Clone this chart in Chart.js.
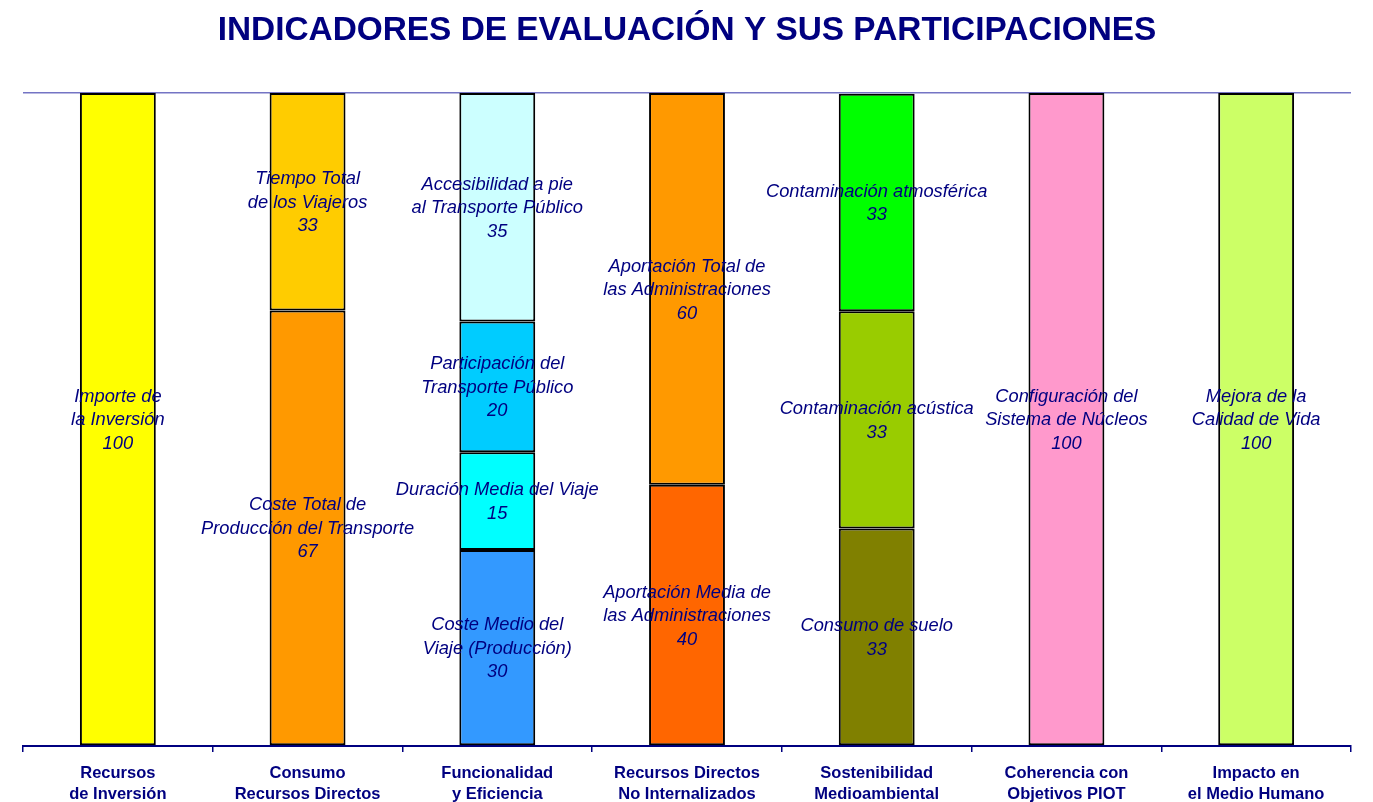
<!DOCTYPE html>
<html>
<head>
<meta charset="utf-8">
<script src="https://cdn.jsdelivr.net/npm/chart.js@4"></script>
<style>
  html, body { margin: 0; padding: 0; background: #fff; }
  #wrap { width: 1373px; height: 802px; }
</style>
</head>
<body>
<div id="wrap"><canvas id="grafico"></canvas></div>
<script>
// categorias del eje X
const categorias = [
  ['Recursos', 'de Inversión'],
  ['Consumo', 'Recursos Directos'],
  ['Funcionalidad', 'y Eficiencia'],
  ['Recursos Directos', 'No Internalizados'],
  ['Sostenibilidad', 'Medioambiental'],
  ['Coherencia con', 'Objetivos PIOT'],
  ['Impacto en', 'el Medio Humano']
];

// participaciones por nivel (de abajo hacia arriba)
const nivel1 = [100, 66.7, 30, 40, 33.3, 100, 100];
const nivel2 = [null, 33.3, 15, 60, 33.3, null, null];
const nivel3 = [null, null, 20, null, 33.3, null, null];
const nivel4 = [null, null, 35, null, null, null, null];

// nombres de cada indicador
const nombres1 = [
  ['Importe de', 'la Inversión'],
  ['Coste Total de', 'Producción del Transporte'],
  ['Coste Medio del', 'Viaje (Producción)'],
  ['Aportación Media de', 'las Administraciones'],
  ['Consumo de suelo'],
  ['Configuración del', 'Sistema de Núcleos'],
  ['Mejora de la', 'Calidad de Vida']
];
const nombres2 = [null, ['Tiempo Total', 'de los Viajeros'], ['Duración Media del Viaje'],
  ['Aportación Total de', 'las Administraciones'], ['Contaminación acústica'], null, null];
const nombres3 = [null, null, ['Participación del', 'Transporte Público'], null, ['Contaminación atmosférica'], null, null];
const nombres4 = [null, null, ['Accesibilidad a pie', 'al Transporte Público'], null, null, null, null];

// colores
const colores1 = ['#FFFF00', '#FF9900', '#3399FF', '#FF6600', '#808000', '#FF99CC', '#CCFF66'];
const colores2 = [null, '#FFCC00', '#00FFFF', '#FF9900', '#99CC00', null, null];
const colores3 = [null, null, '#00CCFF', null, '#00FF00', null, null];
const colores4 = [null, null, '#CCFFFF', null, null, null, null];

const niveles = [
  { data: nivel1, nombres: nombres1, colores: colores1 },
  { data: nivel2, nombres: nombres2, colores: colores2 },
  { data: nivel3, nombres: nombres3, colores: colores3 },
  { data: nivel4, nombres: nombres4, colores: colores4 }
];

const azul = '#000080';
const fuente = '"Liberation Sans", Arial, sans-serif';

// dibuja los nombres y valores en el centro de cada tramo
const etiquetasPlugin = {
  id: 'etiquetas',
  afterDatasetsDraw(chart) {
    const ctx = chart.ctx;
    ctx.save();
    ctx.font = 'italic 18.3px ' + fuente;
    ctx.fillStyle = azul;
    ctx.textAlign = 'center';
    ctx.textBaseline = 'middle';
    chart.data.datasets.forEach((ds, di) => {
      const meta = chart.getDatasetMeta(di);
      ds.data.forEach((v, i) => {
        if (v == null) return;
        const el = meta.data[i];
        const lineas = ds.nombres[i].concat([String(Math.round(v))]);
        const centro = (el.y + el.base) / 2 + 1;
        const alto = 23.5;
        const inicio = centro - (lineas.length - 1) * alto / 2;
        lineas.forEach((t, k) => ctx.fillText(t, el.x, inicio + k * alto));
      });
    });
    ctx.restore();
  }
};

const ctx = document.getElementById('grafico').getContext('2d');

new Chart(ctx, {
  type: 'bar',
  data: {
    labels: categorias,
    datasets: niveles.map((n, k) => ({
      label: 'Nivel ' + (k + 1),
      data: n.data,
      nombres: n.nombres,
      backgroundColor: n.colores.map(c => c || 'transparent'),
      borderColor: '#000000',
      borderWidth: 2,
      borderSkipped: false,
      categoryPercentage: 0.8,
      barPercentage: 0.5
    }))
  },
  options: {
    responsive: true,
    maintainAspectRatio: false,
    animation: false,
    layout: { padding: { left: 23, right: 22, bottom: 0 } },
    plugins: {
      legend: { display: false },
      tooltip: { enabled: false },
      title: {
        display: true,
        text: 'INDICADORES DE EVALUACIÓN Y SUS PARTICIPACIONES',
        color: azul,
        font: { family: fuente, size: 33.4, weight: 'bold' },
        padding: { top: 11, bottom: 42 }
      }
    },
    scales: {
      x: {
        stacked: true,
        afterFit: s => { s.height = 56; },
        grid: { drawOnChartArea: false, tickLength: 6, color: azul, lineWidth: 1.5 },
        border: { color: azul, width: 2 },
        ticks: {
          color: azul,
          padding: 11,
          maxRotation: 0,
          autoSkip: false,
          font: { family: fuente, size: 16.5, weight: 'bold', lineHeight: 1.27 }
        }
      },
      y: {
        stacked: true,
        min: 0,
        max: 100,
        ticks: { display: false, stepSize: 50 },
        border: { display: false },
        grid: {
          drawTicks: false,
          color: c => c.tick.value === 100 ? '#7474c4' : 'transparent',
          lineWidth: 1.5
        }
      }
    }
  },
  plugins: [etiquetasPlugin]
});
</script>
</body>
</html>
